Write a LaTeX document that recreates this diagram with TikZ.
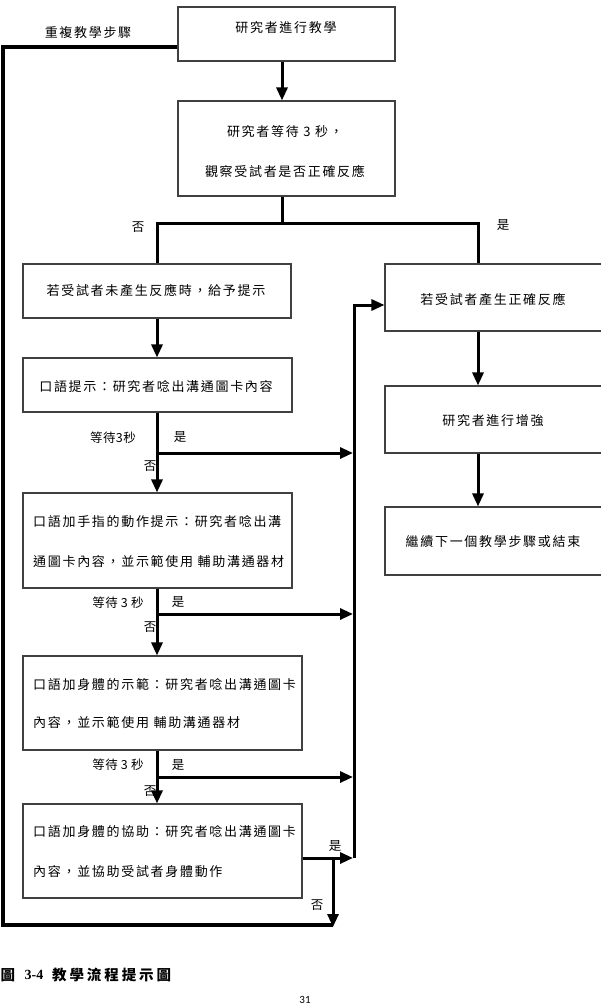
\documentclass[tikz,border=0pt]{standalone}
\usepackage{fontspec}
\setmainfont{Noto Sans CJK TC}
\newfontfamily\cjkbox[LetterSpace=13]{Noto Sans CJK TC}
\newfontfamily\cjklbl[LetterSpace=3]{Noto Sans CJK TC}
\newfontfamily\cjkcap[LetterSpace=20]{Noto Sans CJK TC}
\newfontfamily\serifb{Liberation Serif}
\newfontfamily\pagefont{Carlito}
\usetikzlibrary{arrows.meta}
\tikzset{
  box/.style={draw=black!75, line width=1.1pt, rectangle, inner sep=0pt},
  txt/.style={inner sep=0pt, font=\cjkbox\fontsize{13}{15}\selectfont},
  lbl/.style={inner sep=0pt, font=\cjklbl\fontsize{12.5}{14}\selectfont},
  capf/.style={inner sep=0pt, font=\cjkcap\bfseries\fontsize{14.5}{16}\selectfont},
  conn/.style={line width=3pt, line join=miter},
  arr/.style={conn, -{Triangle[length=13pt,width=11pt]}},
  loopline/.style={line width=3.5pt, line join=miter}
}
\begin{document}
\begin{tikzpicture}[x=1pt,y=-1pt]
\useasboundingbox (0,0) rectangle (600,1007);
% boxes
\node[box, minimum width=217pt, minimum height=54pt] (b1) at (286.5,34) {};
\node[box, minimum width=217pt, minimum height=95pt] (b2) at (286.5,148.5) {};
\node[box, minimum width=268pt, minimum height=54pt] (bA) at (157,291) {};
\node[box, minimum width=269pt, minimum height=54pt] (bB) at (157.5,385) {};
\node[box, minimum width=269pt, minimum height=95pt] (bC) at (157.5,540.5) {};
\node[box, minimum width=279pt, minimum height=94pt] (bD) at (162.5,703) {};
\node[box, minimum width=279pt, minimum height=94pt] (bE) at (162.5,851) {};
\node[box, minimum width=220pt, minimum height=67pt] (bF) at (495,297.5) {};
\node[box, minimum width=220pt, minimum height=67pt] (bG) at (495,419.5) {};
\node[box, minimum width=220pt, minimum height=68pt] (bH) at (495,541) {};
% box texts
\node[txt] (t1) at (286,28) {研究者進行教學};
\node[txt] (t2a) at (285,132) {研究者等待 3 秒，};
\node[txt] (t2b) at (285,171) {觀察受試者是否正確反應};
\node[txt] (tA) at (156,290) {若受試者未產生反應時，給予提示};
\node[txt] (tB) at (156,387) {口語提示：研究者唸出溝通圖卡內容};
\node[txt, anchor=west] (tC1) at (33,522) {口語加手指的動作提示：研究者唸出溝};
\node[txt, anchor=west] (tC2) at (33,562) {通圖卡內容，並示範使用 輔助溝通器材};
\node[txt, anchor=west] (tD1) at (33,685) {口語加身體的示範：研究者唸出溝通圖卡};
\node[txt, anchor=west] (tD2) at (33,723) {內容，並示範使用 輔助溝通器材};
\node[txt, anchor=west] (tE1) at (33,832) {口語加身體的協助：研究者唸出溝通圖卡};
\node[txt, anchor=west] (tE2) at (33,872) {內容，並協助受試者身體動作};
\node[txt] (tF) at (493,299) {若受試者產生正確反應};
\node[txt] (tG) at (493,421) {研究者進行增強};
\node[txt] (tH) at (493,542) {繼續下一個教學步驟或結束};
\node[txt] (trep) at (88,33) {重複教學步驟};
% labels
\node[lbl] (n0) at (138,227) {否};
\node[lbl] (y0) at (503,225) {是};
\node[lbl] (w1) at (113,438) {等待3秒};
\node[lbl] (y1) at (180,437) {是};
\node[lbl] (n1) at (150,466) {否};
\node[lbl] (w2) at (118,603) {等待 3 秒};
\node[lbl] (y2) at (178,602) {是};
\node[lbl] (n2) at (150,627) {否};
\node[lbl] (w3) at (118,765) {等待 3 秒};
\node[lbl] (y3) at (178,765) {是};
\node[lbl] (n3) at (150,791) {否};
\node[lbl] (y4) at (335,846) {是};
\node[lbl] (n4) at (317,905) {否};
% coordinates
\coordinate (split) at (282,223);
\coordinate (xl) at (157,0);
\coordinate (xr) at (478,0);
\coordinate (xc) at (282,0);
\coordinate (xn) at (333,0);
\coordinate (xcol) at (353,0);
\coordinate (br1) at (0,453);
\coordinate (br2) at (0,614);
\coordinate (br3) at (0,777);
\coordinate (yE) at (0,858);
\coordinate (colTop) at (354,305);
\coordinate (colBot) at (354,858);
\coordinate (loopBL) at (3,925);
\coordinate (loopTL) at (3,47);
% connectors
\draw[arr] (b1.south -| xc) -- (b2.north -| xc);
\draw[conn] (b2.south -| xc) -- (split);
\draw[conn] (bA.north -| xl) -- (split -| xl) -- (split -| xr) -- (bF.north -| xr);
\draw[arr] (bA.south -| xl) -- (bB.north -| xl);
\draw[arr] (bB.south -| xl) -- (bC.north -| xl);
\draw[arr] (bC.south -| xl) -- (bD.north -| xl);
\draw[arr] (bD.south -| xl) -- (bE.north -| xl);
\draw[arr] (br1 -| xl) -- (br1 -| xcol);
\draw[arr] (br2 -| xl) -- (br2 -| xcol);
\draw[arr] (br3 -| xl) -- (br3 -| xcol);
\draw[arr] (bE.east |- yE) -- (yE -| xcol);
\draw[arr] (yE -| xn) -- ([yshift=-2pt]loopBL -| xn);
\draw[loopline] (loopBL -| xn) -- (loopBL) -- (loopTL) -- (b1.west |- loopTL);
\draw[arr] (colBot) -- (colTop) -- (bF.west |- colTop);
\draw[arr] (bF.south -| xr) -- (bG.north -| xr);
\draw[arr] (bG.south -| xr) -- (bH.north -| xr);
% caption
\node[capf, anchor=west] (c1) at (0.5,975) {圖};
\node[inner sep=0pt, font=\serifb\bfseries\fontsize{14}{16}\selectfont] (c2) at (34,975) {3-4};
\node[capf, anchor=west] (c3) at (52,975) {教學流程提示圖};
\node[inner sep=0pt, font=\pagefont\fontsize{11}{13}\selectfont] (pg) at (305,1000) {31};
\end{tikzpicture}
\end{document}
